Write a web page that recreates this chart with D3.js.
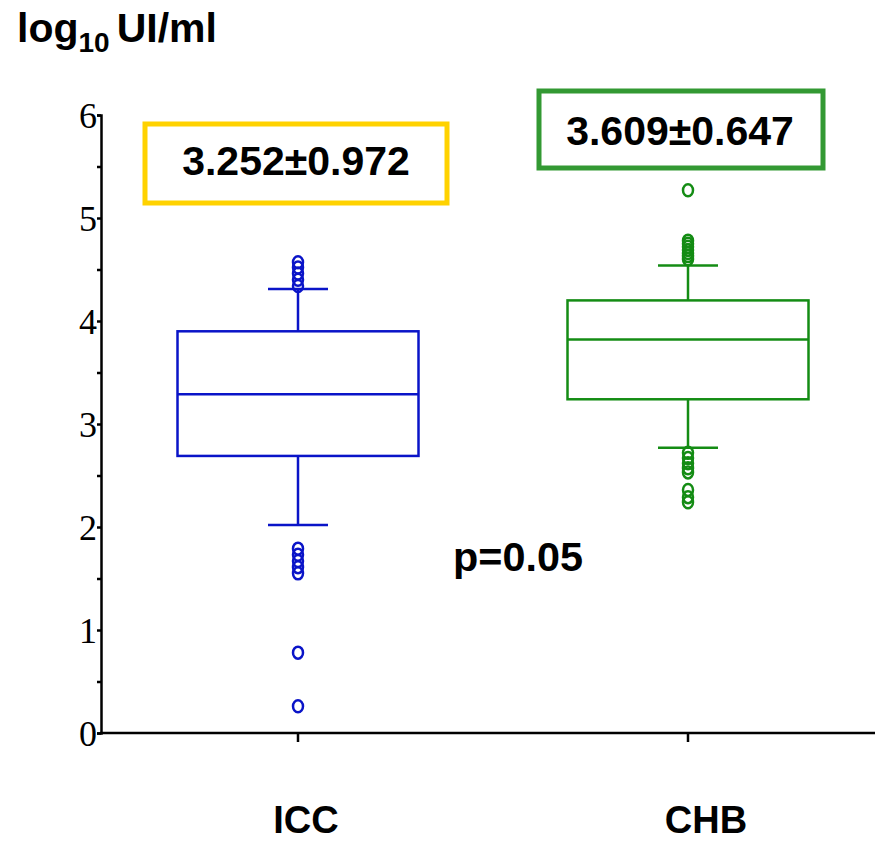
<!DOCTYPE html>
<html>
<head>
<meta charset="utf-8">
<script src="https://cdn.jsdelivr.net/npm/d3@7"></script>
<style>
  html, body { margin: 0; padding: 0; background: #fff; }
  svg { display: block; }
  .num { font-family: "Liberation Serif", "Times New Roman", serif; font-size: 36px; }
  .bold { font-family: "Liberation Sans", Arial, sans-serif; font-weight: bold; }
</style>
</head>
<body>
<svg id="chart" width="875" height="842"></svg>
<script>
const groups = ['ICC', 'CHB'];
const colors = ['#0a14c8', '#148c14'];
const q1 = [2.69, 3.24];
const median = [3.29, 3.82];
const q3 = [3.90, 4.20];
const whiskerLow = [2.02, 2.77];
const whiskerHigh = [4.31, 4.54];
const outliersICC = [4.57, 4.52, 4.46, 4.40, 4.34, 1.79, 1.73, 1.67, 1.61, 1.55, 0.78, 0.26];
const outliersCHB = [5.27, 4.78, 4.75, 4.72, 4.69, 4.66, 4.63, 4.60, 2.72, 2.67, 2.62, 2.57, 2.53, 2.36, 2.29, 2.24];
const statLabels = ['3.252±0.972', '3.609±0.647'];
const statBorders = ['#ffd200', '#339933'];
const yTicks = [0, 1, 2, 3, 4, 5, 6];
const yMinorTicks = [0.5, 1.5, 2.5, 3.5, 4.5, 5.5];
const pLabel = 'p=0.05';

const svg = d3.select('#chart');
const axisLeft = 101;
const y = d3.scaleLinear().domain([0, 6]).range([733, 115]);
const x = d3.scalePoint().domain(groups).range([298, 688]);
const boxW = 241;
const capW = 60;

// title
const title = svg.append('text').attr('class', 'bold').attr('x', 17).attr('y', 42).attr('font-size', 41);
title.append('tspan').text('log');
title.append('tspan').attr('font-size', 28).attr('dy', 10).text('10');
title.append('tspan').attr('dy', -10).attr('dx', 7).text('UI/ml');

// y axis
const yAxis = svg.append('g').attr('transform', `translate(${axisLeft},0)`)
  .call(d3.axisLeft(y).tickValues(yTicks).tickSize(4).tickPadding(0).tickFormat(d3.format('d')));
yAxis.select('.domain').attr('stroke', '#000').attr('stroke-width', 2.5);
yAxis.selectAll('.tick line').attr('stroke', '#000').attr('stroke-width', 2.5);
yAxis.selectAll('text').attr('class', 'num').attr('font-size', null).attr('font-family', null).attr('fill', '#000').attr('dy', '0.34em');

svg.append('g').attr('transform', `translate(${axisLeft},0)`)
  .call(d3.axisLeft(y).tickValues(yMinorTicks).tickSize(4).tickFormat(''))
  .call((g) => g.select('.domain').remove())
  .selectAll('line').attr('stroke', '#000').attr('stroke-width', 2.5);

// x axis
const xAxis = svg.append('g').attr('transform', `translate(0,${y(0)})`);
xAxis.append('line').attr('x1', axisLeft - 1).attr('x2', 875).attr('stroke', '#000').attr('stroke-width', 2.5);
xAxis.selectAll('line.tick').data(groups).join('line').attr('class', 'tick')
  .attr('x1', (d) => x(d)).attr('x2', (d) => x(d)).attr('y1', 0).attr('y2', 9)
  .attr('stroke', '#000').attr('stroke-width', 2.5);

const groupLabelX = [306, 706];
svg.selectAll('text.group').data(groups).join('text').attr('class', 'group bold')
  .attr('x', (d, i) => groupLabelX[i]).attr('y', 833).attr('text-anchor', 'middle')
  .attr('font-size', 38).text((d) => d);

// boxes
const boxData = groups.map((g, i) => ({
  g, c: colors[i], q1: q1[i], med: median[i], q3: q3[i], lo: whiskerLow[i], hi: whiskerHigh[i],
  out: i === 0 ? outliersICC : outliersCHB
}));

const bg = svg.selectAll('g.box').data(boxData).join('g').attr('class', 'box')
  .attr('stroke', (d) => d.c).attr('stroke-width', 2.5).attr('fill', 'none');

bg.append('line').attr('x1', (d) => x(d.g)).attr('x2', (d) => x(d.g))
  .attr('y1', (d) => y(d.hi)).attr('y2', (d) => y(d.q3));
bg.append('line').attr('x1', (d) => x(d.g)).attr('x2', (d) => x(d.g))
  .attr('y1', (d) => y(d.q1)).attr('y2', (d) => y(d.lo));
bg.append('line').attr('x1', (d) => x(d.g) - capW / 2).attr('x2', (d) => x(d.g) + capW / 2)
  .attr('y1', (d) => y(d.hi)).attr('y2', (d) => y(d.hi));
bg.append('line').attr('x1', (d) => x(d.g) - capW / 2).attr('x2', (d) => x(d.g) + capW / 2)
  .attr('y1', (d) => y(d.lo)).attr('y2', (d) => y(d.lo));
bg.append('rect').attr('x', (d) => x(d.g) - boxW / 2).attr('width', boxW)
  .attr('y', (d) => y(d.q3)).attr('height', (d) => y(d.q1) - y(d.q3));
bg.append('line').attr('x1', (d) => x(d.g) - boxW / 2).attr('x2', (d) => x(d.g) + boxW / 2)
  .attr('y1', (d) => y(d.med)).attr('y2', (d) => y(d.med));

bg.each(function (d) {
  d3.select(this).selectAll('ellipse').data(d.out).join('ellipse')
    .attr('cx', x(d.g)).attr('cy', (v) => y(v)).attr('rx', 5).attr('ry', 6);
});

// stat label boxes
const statBoxes = [
  { x: 145, y: 124, w: 302, h: 79, tx: 296, ty: 175 },
  { x: 539, y: 91, w: 284, h: 77, tx: 680, ty: 145 }
];
statBoxes.forEach((b, i) => {
  svg.append('rect').attr('x', b.x).attr('y', b.y).attr('width', b.w).attr('height', b.h)
    .attr('fill', '#fff').attr('stroke', statBorders[i]).attr('stroke-width', 5);
  svg.append('text').attr('class', 'bold').attr('x', b.tx).attr('y', b.ty)
    .attr('text-anchor', 'middle').attr('font-size', 41).text(statLabels[i]);
});

svg.append('text').attr('class', 'bold').attr('x', 453).attr('y', 571)
  .attr('font-size', 40).attr('textLength', 130).attr('lengthAdjust', 'spacingAndGlyphs').text(pLabel);
</script>
</body>
</html>
